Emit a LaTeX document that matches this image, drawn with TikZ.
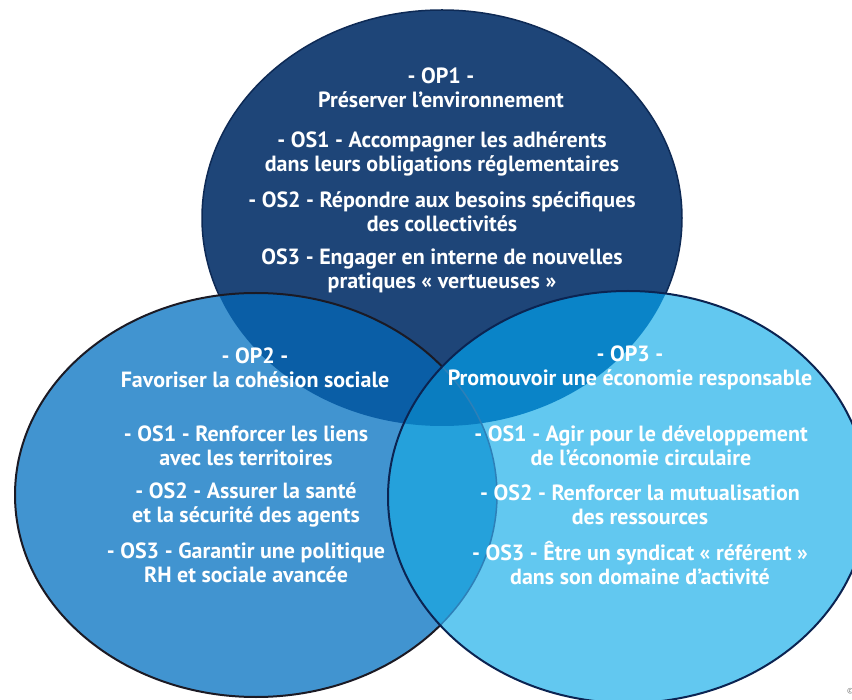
\documentclass[tikz,border=0pt]{standalone}
\usepackage{fontspec}
\setmainfont{PT Sans}
% palette
\definecolor{topc}{HTML}{1E4578}
\definecolor{leftc}{HTML}{4194D0}
\definecolor{rightc}{HTML}{62C8F0}
\definecolor{ltc}{HTML}{0A5EA6}
\definecolor{rtc}{HTML}{0A84C8}
\definecolor{lrc}{HTML}{25A1DB}
\definecolor{tric}{HTML}{0A7DC0}
\definecolor{topb}{HTML}{0E2A55}
\definecolor{leftb}{HTML}{1B1A24}
\definecolor{rightb}{HTML}{0B2452}
\definecolor{leftthru}{HTML}{2D80B8}
\begin{document}
\begin{tikzpicture}[x=1pt,y=-1pt,
  topE/.style={insert path={(442,218) ellipse [x radius=240pt, y radius=208pt]}},
  leftE/.style={insert path={(256,495) ellipse [x radius=241pt, y radius=202pt]}},
  rightE/.style={insert path={(628,497) ellipse [x radius=240pt, y radius=206pt]}},
  lbl/.style={text=white, font=\fontsize{22}{24}\selectfont\bfseries, align=center, inner sep=0pt},
]
\useasboundingbox[fill=white] (0,0) rectangle (852,700);

% top circle: preserve the environment
\fill[topc, topE];
\draw[topb, line width=1.5pt, topE];

% left circle: social cohesion
\fill[leftc, leftE];
\begin{scope}
  \clip[leftE];
  \fill[ltc, topE];
\end{scope}
\draw[leftb, line width=2pt, leftE];

% right circle: responsible economy, laid over the other two
\fill[rightc, rightE];
\begin{scope}
  \clip[rightE];
  \fill[rtc, topE];
  \fill[lrc, leftE];
  \begin{scope}
    \clip[leftE];
    \fill[tric, topE];
  \end{scope}
  \draw[leftthru, line width=1.5pt, leftE];
\end{scope}
\draw[rightb, line width=2pt, rightE];

% texts of the top circle
\node[lbl] (op1)  at (441,88)    {- OP1 -\\Préserver l’environnement};
\node[lbl] (os11) at (442,153.5) {- OS1 - Accompagner les adhérents\\dans leurs obligations réglementaires};
\node[lbl] (os12) at (442,212)   {- OS2 - Répondre aux besoins spécifiques\\des collectivités};
\node[lbl] (os13) at (442,271)   {OS3 - Engager en interne de nouvelles\\pratiques «~vertueuses~»};

% texts of the left circle
\node[lbl] (op2)  at (255,368)   {- OP2 -\\Favoriser la cohésion sociale};
\node[lbl] (os21) at (246,446)   {- OS1 - Renforcer les liens\\avec les territoires};
\node[lbl] (os22) at (246,505)   {- OS2 - Assurer la santé\\et la sécurité des agents};
\node[lbl] (os23) at (246,563)   {- OS3 - Garantir une politique\\RH et sociale avancée};

% texts of the right circle
\node[lbl] (op3)  at (630,368)   {- OP3 -\\Promouvoir une économie responsable};
\node[lbl] (os31) at (641,446)   {- OS1 - Agir pour le développement\\de l’économie circulaire};
\node[lbl] (os32) at (640,505)   {- OS2 - Renforcer la mutualisation\\des ressources};
\node[lbl] (os33) at (640,563)   {- OS3 - Être un syndicat «~référent~»\\dans son domaine d’activité};

% credit mark in the corner
\node[text=gray, font=\fontsize{8}{8}\selectfont, anchor=west, inner sep=0pt] (credit) at (847,691) {\textcopyright};
\end{tikzpicture}
\end{document}
